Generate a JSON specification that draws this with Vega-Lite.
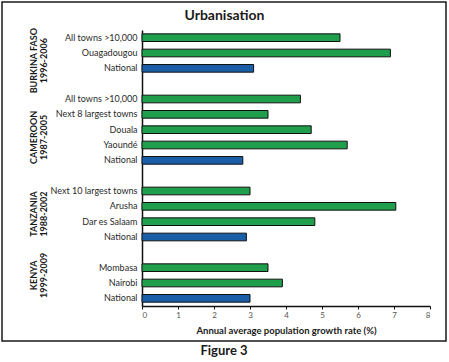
{
  "$schema": "https://vega.github.io/schema/vega-lite/v6.json",
  "width": 444,
  "height": 339,
  "autosize": "none",
  "padding": {"left": 2, "top": 2, "right": 3, "bottom": 21},
  "background": "white",
  "title": {
    "text": "Figure 3",
    "orient": "bottom",
    "anchor": "middle",
    "frame": "group",
    "offset": 4,
    "baseline": "top",
    "font": "Lato",
    "fontSize": 13,
    "fontWeight": "bold",
    "color": "#1a1a1a"
  },
  "config": {
    "view": {"stroke": "#1a1a1a", "strokeWidth": 1.5},
    "font": "Lato"
  },
  "datasets": {
    "rates": [
      {"key": "BF:All towns >10,000", "country": "Burkina Faso", "place": "All towns >10,000", "type": "Urban", "rate": 5.5},
      {"key": "BF:Ouagadougou", "country": "Burkina Faso", "place": "Ouagadougou", "type": "Urban", "rate": 6.9},
      {"key": "BF:National", "country": "Burkina Faso", "place": "National", "type": "National", "rate": 3.1},
      {"key": "CM:All towns >10,000", "country": "Cameroon", "place": "All towns >10,000", "type": "Urban", "rate": 4.4},
      {"key": "CM:Next 8 largest towns", "country": "Cameroon", "place": "Next 8 largest towns", "type": "Urban", "rate": 3.5},
      {"key": "CM:Douala", "country": "Cameroon", "place": "Douala", "type": "Urban", "rate": 4.7},
      {"key": "CM:Yaoundé", "country": "Cameroon", "place": "Yaoundé", "type": "Urban", "rate": 5.7},
      {"key": "CM:National", "country": "Cameroon", "place": "National", "type": "National", "rate": 2.8},
      {"key": "TZ:Next 10 largest towns", "country": "Tanzania", "place": "Next 10 largest towns", "type": "Urban", "rate": 3.0},
      {"key": "TZ:Arusha", "country": "Tanzania", "place": "Arusha", "type": "Urban", "rate": 7.05},
      {"key": "TZ:Dar es Salaam", "country": "Tanzania", "place": "Dar es Salaam", "type": "Urban", "rate": 4.8},
      {"key": "TZ:National", "country": "Tanzania", "place": "National", "type": "National", "rate": 2.9},
      {"key": "KE:Mombasa", "country": "Kenya", "place": "Mombasa", "type": "Urban", "rate": 3.5},
      {"key": "KE:Nairobi", "country": "Kenya", "place": "Nairobi", "type": "Urban", "rate": 3.9},
      {"key": "KE:National", "country": "Kenya", "place": "National", "type": "National", "rate": 3.0}
    ],
    "countries": [
      {"anchor": "BF:Ouagadougou", "label": "BURKINA FASO\n1996-2006"},
      {"anchor": "CM:Douala", "label": "CAMEROON\n1987-2005"},
      {"anchor": "TZ:Arusha", "label": "TANZANIA\n1988-2002"},
      {"anchor": "KE:Mombasa", "label": "KENYA\n1999-2009"}
    ]
  },
  "resolve": {"axis": {"x": "independent"}},
  "layer": [
    {
      "data": {"name": "rates"},
      "mark": {"type": "bar", "stroke": "#111111", "strokeWidth": 1},
      "encoding": {
        "y": {
          "field": "key",
          "type": "nominal",
          "sort": null,
          "scale": {
            "domain": [
              "BF:All towns >10,000", "BF:Ouagadougou", "BF:National", "S1:",
              "CM:All towns >10,000", "CM:Next 8 largest towns", "CM:Douala", "CM:Yaoundé", "CM:National", "S2:",
              "TZ:Next 10 largest towns", "TZ:Arusha", "TZ:Dar es Salaam", "TZ:National", "S3:",
              "KE:Mombasa", "KE:Nairobi", "KE:National"
            ],
            "range": [28, 304],
            "paddingInner": 0.5,
            "paddingOuter": 0.25
          },
          "axis": {
            "title": null,
            "orient": "left",
            "offset": -140,
            "labelExpr": "split(datum.value, ':')[1]",
            "ticks": false,
            "labelPadding": 5,
            "labelFont": "Lato",
            "labelFontSize": 9,
            "labelColor": "#2a2a2a",
            "domainColor": "#111111",
            "domainWidth": 1.5,
            "grid": false
          }
        },
        "x": {
          "field": "rate",
          "type": "quantitative",
          "scale": {"domain": [0, 8], "range": [140, 428], "nice": false},
          "axis": {
            "title": "Annual average population growth rate (%)",
            "orient": "bottom",
            "offset": -35,
            "values": [0, 1, 2, 3, 4, 5, 6, 7, 8],
            "grid": false,
            "tickSize": 3,
            "tickColor": "#111111",
            "domainColor": "#111111",
            "domainWidth": 1.5,
            "labelFont": "Lato",
            "labelFontSize": 8,
            "labelColor": "#555555",
            "labelPadding": 2,
            "titleFont": "Lato",
            "titleFontSize": 9.5,
            "titleFontWeight": "bold",
            "titleColor": "#1a1a1a",
            "titlePadding": 6
          }
        },
        "color": {
          "field": "type",
          "type": "nominal",
          "scale": {"domain": ["Urban", "National"], "range": ["#1f9e4b", "#1b5ea8"]},
          "legend": null
        }
      }
    },
    {
      "data": {"name": "countries"},
      "mark": {
        "type": "text",
        "angle": 270,
        "align": "center",
        "baseline": "middle",
        "lineBreak": "\n",
        "lineHeight": 10,
        "dx": -7.7,
        "font": "Lato",
        "fontSize": 9,
        "fontWeight": "bold",
        "color": "#1a1a1a"
      },
      "encoding": {
        "y": {"field": "anchor", "type": "nominal"},
        "x": {
          "datum": -3,
          "type": "quantitative",
          "axis": {
            "title": "Urbanisation",
            "orient": "top",
            "offset": -24,
            "labels": false,
            "ticks": false,
            "domain": false,
            "grid": false,
            "titlePadding": 4,
            "titleX": 222,
            "titleAlign": "center",
            "titleFont": "Lato",
            "titleFontSize": 14,
            "titleFontWeight": "bold",
            "titleColor": "#1a1a1a"
          }
        },
        "text": {"field": "label"}
      }
    }
  ]
}
